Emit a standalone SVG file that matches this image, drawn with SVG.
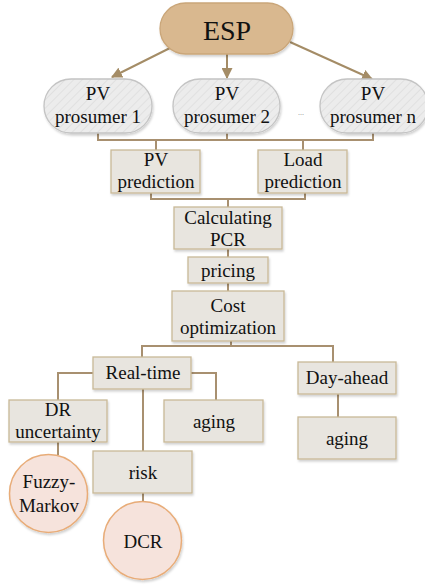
<svg xmlns="http://www.w3.org/2000/svg" width="425" height="585" viewBox="0 0 425 585">
<style>
text{font-family:"Liberation Serif","Times New Roman",serif;font-size:19px;fill:#111;text-anchor:middle}
.box{fill:#e8e5df;stroke:#c9b997;stroke-width:1.3}
.pill{fill:url(#hatch);stroke:#c4c4c4;stroke-width:1.3}
.circ{fill:#f6e3dc;stroke:#e8ac78;stroke-width:1.5}
.esp{fill:#d9b88f;stroke:#caa679;stroke-width:1.3}
.con{fill:none;stroke:#a89070;stroke-width:2}
.arr{fill:none;stroke:#a48c66;stroke-width:2}
</style>
<defs>
<pattern id="hatch" width="6" height="6" patternUnits="userSpaceOnUse" patternTransform="rotate(45)">
<rect width="6" height="6" fill="#ececec"/>
<line x1="0" y1="0" x2="0" y2="6" stroke="#e0e0e0" stroke-width="2"/>
</pattern>
<marker id="ah" viewBox="0 0 10 10" refX="9" refY="5" markerWidth="5.5" markerHeight="5.5" orient="auto">
<path d="M0,0 L10,5 L0,10 Z" fill="#a48c66"/>
</marker>
<filter id="sh" x="-10%" y="-10%" width="130%" height="140%">
<feDropShadow dx="1" dy="2" stdDeviation="1.2" flood-color="#000" flood-opacity="0.18"/>
</filter>
</defs>
<g id="connectors">
<line class="arr" x1="170" y1="48" x2="112" y2="77" marker-end="url(#ah)"/>
<line class="arr" x1="227" y1="54" x2="227" y2="78" marker-end="url(#ah)"/>
<line class="arr" x1="290" y1="42" x2="372" y2="79" marker-end="url(#ah)"/>
<polyline class="con" points="98,133 98,140 373,140 373,133"/>
<line class="con" x1="227" y1="133" x2="227" y2="140"/>
<line class="con" x1="156" y1="140" x2="156" y2="150"/>
<line class="con" x1="303" y1="140" x2="303" y2="150"/>
<polyline class="con" points="151,193 151,199 305,199 305,193"/>
<line class="con" x1="228" y1="199" x2="228" y2="207"/>
<line class="con" x1="228" y1="249" x2="228" y2="257"/>
<line class="con" x1="228" y1="283" x2="228" y2="291"/>
<line class="con" x1="231" y1="341" x2="231" y2="346"/>
<polyline class="con" points="142,357 142,346 333,346 333,362"/>
<polyline class="con" points="93,373 58,373 58,400"/>
<polyline class="con" points="191,373 216,373 216,400"/>
<line class="con" x1="143" y1="389" x2="143" y2="451"/>
<line class="con" x1="338" y1="394" x2="338" y2="417"/>
<line class="con" x1="58" y1="442" x2="58" y2="455"/>
<line class="con" x1="143" y1="493" x2="143" y2="502"/>
</g>
<g id="esp"><rect class="esp" x="160" y="3" width="133" height="51" rx="25.5" filter="url(#sh)"/><text x="227" y="40" style="font-size:28px">ESP</text></g>
<g id="pv1"><rect class="pill" x="44" y="79" width="108" height="54" rx="27" filter="url(#sh)"/><text x="98" y="100">PV</text><text x="98" y="123">prosumer 1</text></g>
<g id="pv2"><rect class="pill" x="173" y="79" width="107" height="54" rx="27" filter="url(#sh)"/><text x="227" y="100">PV</text><text x="227" y="123">prosumer 2</text></g>
<g id="dots"><text x="301" y="115" style="font-size:8px;fill:#888">...</text></g>
<g id="pvn"><rect class="pill" x="320" y="79" width="108" height="54" rx="27" filter="url(#sh)"/><text x="373" y="100">PV</text><text x="373" y="123">prosumer n</text></g>
<g id="pvpred"><rect class="box" x="111" y="150" width="89" height="43" filter="url(#sh)"/><text x="156" y="166">PV</text><text x="156" y="188">prediction</text></g>
<g id="loadpred"><rect class="box" x="258" y="150" width="89" height="43" filter="url(#sh)"/><text x="303" y="166">Load</text><text x="303" y="188">prediction</text></g>
<g id="pcr"><rect class="box" x="174" y="207" width="108" height="42" filter="url(#sh)"/><text x="228" y="224">Calculating</text><text x="228" y="246">PCR</text></g>
<g id="pricing"><rect class="box" x="188" y="257" width="80" height="26" filter="url(#sh)"/><text x="228" y="277">pricing</text></g>
<g id="cost"><rect class="box" x="172" y="291" width="112" height="50" filter="url(#sh)"/><text x="228" y="312">Cost</text><text x="228" y="334">optimization</text></g>
<g id="realtime"><rect class="box" x="93" y="357" width="98" height="32" filter="url(#sh)"/><text x="143" y="379">Real-time</text></g>
<g id="dayahead"><rect class="box" x="298" y="362" width="98" height="32" filter="url(#sh)"/><text x="347" y="384">Day-ahead</text></g>
<g id="dr"><rect class="box" x="9" y="400" width="98" height="42" filter="url(#sh)"/><text x="58" y="416">DR</text><text x="58" y="438">uncertainty</text></g>
<g id="aging1"><rect class="box" x="164" y="400" width="99" height="42" filter="url(#sh)"/><text x="214" y="428">aging</text></g>
<g id="aging2"><rect class="box" x="298" y="417" width="98" height="42" filter="url(#sh)"/><text x="347" y="445">aging</text></g>
<g id="risk"><rect class="box" x="93" y="451" width="99" height="42" filter="url(#sh)"/><text x="143" y="479">risk</text></g>
<g id="fuzzy"><circle class="circ" cx="48.5" cy="493.5" r="39" filter="url(#sh)"/><text x="49" y="488">Fuzzy-</text><text x="49" y="512">Markov</text></g>
<g id="dcr"><circle class="circ" cx="142.5" cy="540.5" r="39" filter="url(#sh)"/><text x="143" y="548">DCR</text></g>
</svg>
